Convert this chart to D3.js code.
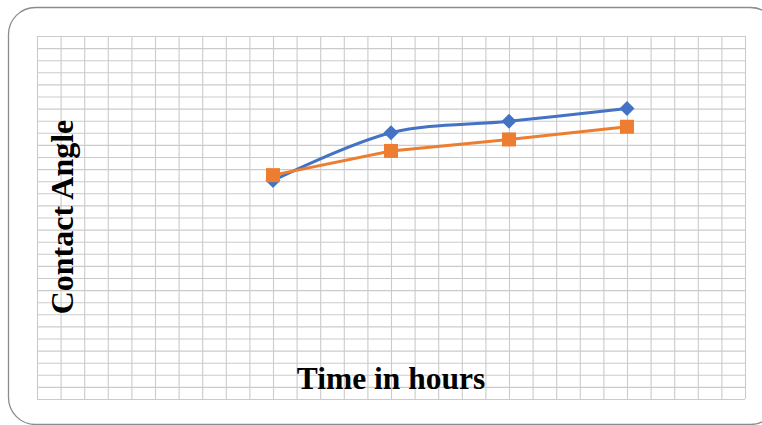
<!DOCTYPE html>
<html lang="en">
<meta charset="utf-8">
<head>
  <script src="https://d3js.org/d3.v7.min.js"></script>
  <style>
    body { margin: 0; background: #fff; }
  </style>
</head>
<body>
  <div id="my_dataviz"></div>
  <script>
    // data (hours, contact angle in degrees)
    var hours = [2, 3, 4, 5];
    var seriesA = [72.2, 88, 91.8, 96];
    var seriesB = [74, 82, 85.8, 90];
    var xGrid = d3.range(0, 31).map(function (i) { return i * 0.2; });
    var yGrid = d3.range(0, 31).map(function (i) { return i * 4; });

    var W = 762, H = 425;
    var margin = { top: 36, right: 17, bottom: 26, left: 37 },
      width = W - margin.left - margin.right,
      height = H - margin.top - margin.bottom;

    var root = d3.select("#my_dataviz")
      .append("svg")
      .attr("width", W)
      .attr("height", H);

    // outer chart frame
    root.append("rect")
      .attr("x", 8.5).attr("y", 7.5)
      .attr("width", 769).attr("height", 417)
      .attr("rx", 27).attr("ry", 27)
      .attr("fill", "#fff")
      .attr("stroke", "#8c8c8c")
      .attr("stroke-width", 1.3);

    var svg = root.append("g")
      .attr("transform", "translate(" + margin.left + "," + margin.top + ")");

    var x = d3.scaleLinear().domain([0, 6]).range([0, width]);
    var y = d3.scaleLinear().domain([0, 120]).range([height, 0]);

    // gridlines
    svg.append("g")
      .attr("class", "grid")
      .attr("transform", "translate(0," + height + ")")
      .call(d3.axisBottom(x).tickValues(xGrid).tickSize(-height).tickFormat(""));
    svg.append("g")
      .attr("class", "grid")
      .call(d3.axisLeft(y).tickValues(yGrid).tickSize(-width).tickFormat(""));
    svg.selectAll(".grid .domain").remove();
    svg.selectAll(".grid line")
      .attr("stroke", "#cbcbcb")
      .attr("stroke-width", 1.1);

    // titles
    svg.append("text")
      .attr("x", width / 2)
      .attr("y", 353)
      .attr("text-anchor", "middle")
      .style("font-family", "'Liberation Serif', 'Times New Roman', serif")
      .style("font-weight", "bold")
      .style("font-size", "31.5px")
      .text("Time in hours");

    svg.append("text")
      .attr("transform", "translate(" + (73 - margin.left) + "," + (217 - margin.top) + ")rotate(-90)")
      .attr("text-anchor", "middle")
      .style("font-family", "'Liberation Serif', 'Times New Roman', serif")
      .style("font-weight", "bold")
      .style("font-size", "32px")
      .text("Contact Angle");

    // series A: smoothed blue line with diamonds
    var lineA = d3.line()
      .x(function (d, i) { return x(hours[i]); })
      .y(function (d) { return y(d); })
      .curve(d3.curveCatmullRom.alpha(0.5));

    svg.append("path")
      .datum(seriesA)
      .attr("fill", "none")
      .attr("stroke", "#4472c4")
      .attr("stroke-width", 3)
      .attr("d", lineA);

    // series B: orange line with squares
    var lineB = d3.line()
      .x(function (d, i) { return x(hours[i]); })
      .y(function (d) { return y(d); });

    svg.append("path")
      .datum(seriesB)
      .attr("fill", "none")
      .attr("stroke", "#ed7d31")
      .attr("stroke-width", 3)
      .attr("d", lineB);

    svg.selectAll(".diamond")
      .data(seriesA)
      .enter()
      .append("path")
      .attr("class", "diamond")
      .attr("d", "M0,-7.5L7.5,0L0,7.5L-7.5,0Z")
      .attr("transform", function (d, i) { return "translate(" + x(hours[i]) + "," + y(d) + ")"; })
      .attr("fill", "#4472c4");

    svg.selectAll(".square")
      .data(seriesB)
      .enter()
      .append("rect")
      .attr("class", "square")
      .attr("x", function (d, i) { return x(hours[i]) - 7; })
      .attr("y", function (d) { return y(d) - 7; })
      .attr("width", 14)
      .attr("height", 14)
      .attr("fill", "#ed7d31");
  </script>
</body>
</html>
